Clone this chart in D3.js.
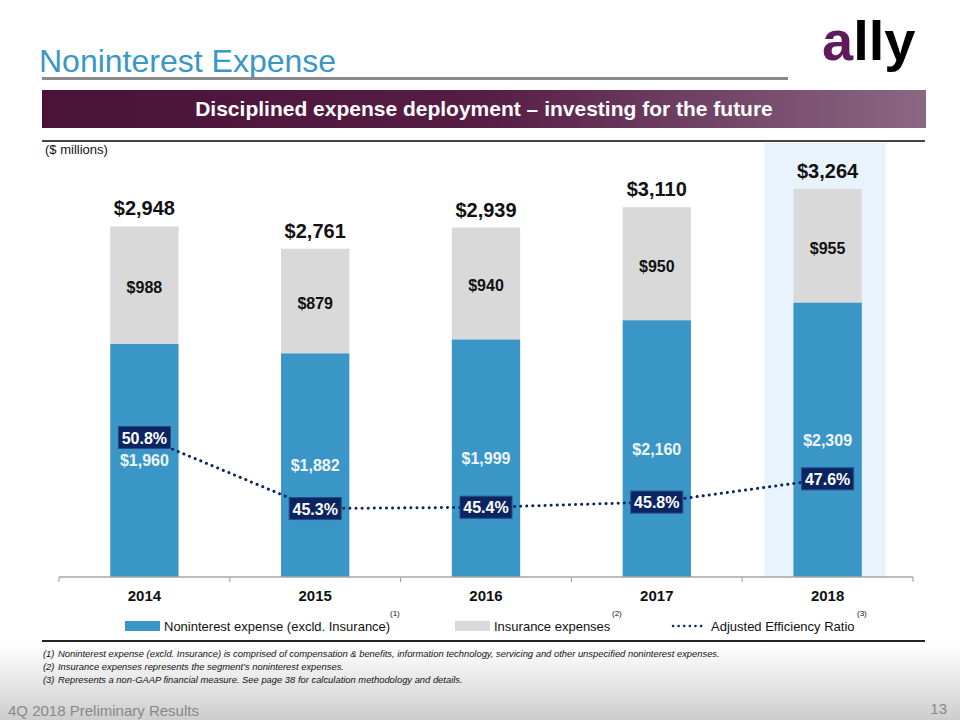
<!DOCTYPE html>
<html>
<head>
<meta charset="utf-8">
<script src="https://cdn.jsdelivr.net/npm/d3@7/dist/d3.min.js"></script>
<style>
  html, body { margin: 0; padding: 0; background: #fff; }
  svg { display: block; font-family: "Liberation Sans", Arial, sans-serif; }
</style>
</head>
<body>
<svg id="chart" width="960" height="720"></svg>
<script>
const years = ["2014", "2015", "2016", "2017", "2018"];
const nonInsurance = [1960, 1882, 1999, 2160, 2309];
const insurance = [988, 879, 940, 950, 955];
const totals = [2948, 2761, 2939, 3110, 3264];
const efficiency = [50.8, 45.3, 45.4, 45.8, 47.6];
const legendLabels = ["Noninterest expense (excld. Insurance)", "Insurance expenses", "Adjusted Efficiency Ratio"];
const footnotes = [
  "Noninterest expense (excld. Insurance) is comprised of compensation & benefits, information technology, servicing and other unspecified noninterest expenses.",
  "Insurance expenses represents the segment\u2019s noninterest expenses.",
  "Represents a non-GAAP financial measure. See page 38 for calculation methodology and details."
];

const BLUE = "#3a96c6", GREY = "#d9d9d9", NAVY = "#0b2560", HILITE = "#e8f3fd";
const svg = d3.select("#chart");
const defs = svg.append("defs");

// footer gradient
const fg = defs.append("linearGradient").attr("id", "footGrad").attr("x1", 0).attr("y1", 0).attr("x2", 0).attr("y2", 1);
fg.append("stop").attr("offset", "0%").attr("stop-color", "#ffffff");
fg.append("stop").attr("offset", "100%").attr("stop-color", "#cdcdcd");
svg.append("rect").attr("x", 0).attr("y", 645).attr("width", 960).attr("height", 75).attr("fill", "url(#footGrad)");

// banner gradient
const bg = defs.append("linearGradient").attr("id", "bannerGrad").attr("x1", 0).attr("y1", 0).attr("x2", 1).attr("y2", 0);
bg.append("stop").attr("offset", "0%").attr("stop-color", "#4a1238");
bg.append("stop").attr("offset", "50%").attr("stop-color", "#561d45");
bg.append("stop").attr("offset", "100%").attr("stop-color", "#8b6884");

// Title
svg.append("text").attr("x", 39).attr("y", 72).attr("font-size", 32).attr("fill", "#3b96c8").text("Noninterest Expense");
svg.append("rect").attr("x", 42).attr("y", 77).attr("width", 746).attr("height", 3).attr("fill", "#8a8a8a");

// Logo
const logo = svg.append("text").attr("x", 822).attr("y", 60).attr("font-size", 56).attr("font-weight", "bold")
  .attr("letter-spacing", 0);
logo.append("tspan").attr("fill", "#5e1a5b").text("a");
logo.append("tspan").attr("fill", "#000").text("lly");

// Banner
svg.append("rect").attr("x", 42).attr("y", 90).attr("width", 884).attr("height", 38).attr("fill", "url(#bannerGrad)");
svg.append("text").attr("x", 484).attr("y", 116).attr("text-anchor", "middle").attr("font-size", 21)
  .attr("font-weight", "bold").attr("fill", "#fff").text("Disciplined expense deployment \u2013 investing for the future");
svg.append("rect").attr("x", 42).attr("y", 140).attr("width", 883).attr("height", 2).attr("fill", "#444");
svg.append("text").attr("x", 45).attr("y", 154).attr("font-size", 13).attr("fill", "#111").text("($ millions)");

// Scales
const x = d3.scaleBand().domain(years).range([59, 913]).paddingInner(0.6).paddingOuter(0.3);
const y = d3.scaleLinear().domain([0, 3650]).range([577, 143]);
const yr = d3.scaleLinear().domain([40, 73.6]).range([577, 143]);
const bw = x.bandwidth();
const cx = d => x(d) + bw / 2;

// highlight 2018
svg.append("rect").attr("x", x("2018") - 29).attr("y", 143).attr("width", bw + 53).attr("height", 577 - 143).attr("fill", HILITE);

const data = years.map((yr_, i) => ({ year: yr_, a: nonInsurance[i], b: insurance[i], t: totals[i], r: efficiency[i] }));

// bars
svg.append("g").selectAll("rect").data(data).join("rect")
  .attr("x", d => x(d.year)).attr("width", bw)
  .attr("y", d => y(d.a)).attr("height", d => y(0) - y(d.a)).attr("fill", BLUE);
svg.append("g").selectAll("rect").data(data).join("rect")
  .attr("x", d => x(d.year)).attr("width", bw)
  .attr("y", d => y(d.a + d.b)).attr("height", d => y(d.a) - y(d.a + d.b)).attr("fill", GREY);

const fmt = d3.format(",");
// labels
svg.append("g").selectAll("text").data(data).join("text")
  .attr("x", d => cx(d.year)).attr("y", d => (y(d.a) + y(0)) / 2 + 6)
  .attr("text-anchor", "middle").attr("font-size", 16).attr("font-weight", "bold").attr("fill", "#eef6fb")
  .text(d => "$" + fmt(d.a));
svg.append("g").selectAll("text").data(data).join("text")
  .attr("x", d => cx(d.year)).attr("y", d => (y(d.a) + y(d.a + d.b)) / 2 + 8)
  .attr("text-anchor", "middle").attr("font-size", 16).attr("font-weight", "bold").attr("fill", "#111")
  .text(d => "$" + d.b);
svg.append("g").selectAll("text").data(data).join("text")
  .attr("x", d => cx(d.year)).attr("y", d => y(d.t) - 11)
  .attr("text-anchor", "middle").attr("font-size", 20).attr("font-weight", "bold").attr("fill", "#111")
  .text(d => "$" + fmt(d.t));

// axis
const axis = svg.append("g").attr("transform", "translate(0,577)");
axis.append("line").attr("x1", 59).attr("x2", 913).attr("stroke", "#a6a6a6").attr("stroke-width", 1.5);
const tickXs = [59].concat(years.map(d => x(d) + bw / 2 + x.step() / 2));
axis.selectAll("line.t").data(tickXs).join("line").attr("class", "t")
  .attr("x1", d => d).attr("x2", d => d).attr("y1", 0).attr("y2", 5).attr("stroke", "#a6a6a6").attr("stroke-width", 1.2);
axis.selectAll("text").data(years).join("text")
  .attr("x", d => cx(d)).attr("y", 24).attr("text-anchor", "middle").attr("font-size", 15)
  .attr("font-weight", "bold").attr("fill", "#111").text(d => d);

// efficiency line
const line = d3.line().x(d => cx(d.year)).y(d => yr(d.r));
svg.append("path").datum(data).attr("d", line).attr("fill", "none").attr("stroke", NAVY)
  .attr("stroke-width", 3).attr("stroke-dasharray", "0.1 6").attr("stroke-linecap", "round");
const lbl = svg.append("g").selectAll("g").data(data).join("g")
  .attr("transform", d => `translate(${cx(d.year)},${yr(d.r)})`);
lbl.append("rect").attr("x", -26).attr("y", -11).attr("width", 52).attr("height", 22)
  .attr("fill", NAVY).attr("stroke", "#2c4a85").attr("stroke-width", 1);
lbl.append("text").attr("y", 6).attr("text-anchor", "middle").attr("font-size", 16).attr("font-weight", "bold")
  .attr("fill", "#fff").text(d => d.r.toFixed(1) + "%");

// legend
const lg = svg.append("g").attr("font-size", 13).attr("fill", "#111");
lg.append("rect").attr("x", 125).attr("y", 621).attr("width", 35).attr("height", 10).attr("fill", BLUE);
lg.append("text").attr("x", 164).attr("y", 631).text(legendLabels[0]);
lg.append("text").attr("x", 390).attr("y", 616).attr("font-size", 8).text("(1)");
lg.append("rect").attr("x", 455).attr("y", 621).attr("width", 35).attr("height", 10).attr("fill", GREY);
lg.append("text").attr("x", 494).attr("y", 631).text(legendLabels[1]);
lg.append("text").attr("x", 612).attr("y", 616).attr("font-size", 8).text("(2)");
lg.append("line").attr("x1", 673).attr("x2", 705).attr("y1", 626).attr("y2", 626).attr("stroke", NAVY)
  .attr("stroke-width", 2.5).attr("stroke-dasharray", "0.1 5.5").attr("stroke-linecap", "round");
lg.append("text").attr("x", 711).attr("y", 631).text(legendLabels[2]);
lg.append("text").attr("x", 857).attr("y", 616).attr("font-size", 8).text("(3)");

svg.append("rect").attr("x", 42).attr("y", 640).attr("width", 883).attr("height", 2).attr("fill", "#222");

// footnotes
const fn = svg.append("g").attr("font-size", 9.4).attr("font-style", "italic").attr("fill", "#111");
footnotes.forEach((t, i) => {
  fn.append("text").attr("x", 43).attr("y", 657 + i * 13).text(`(${i + 1})`);
  fn.append("text").attr("x", 58).attr("y", 657 + i * 13).text(t);
});

// footer
svg.append("text").attr("x", 8).attr("y", 716).attr("font-size", 15).attr("fill", "#888").text("4Q 2018 Preliminary Results");
svg.append("text").attr("x", 947).attr("y", 714).attr("text-anchor", "end").attr("font-size", 15).attr("fill", "#888").text("13");
</script>
</body>
</html>
